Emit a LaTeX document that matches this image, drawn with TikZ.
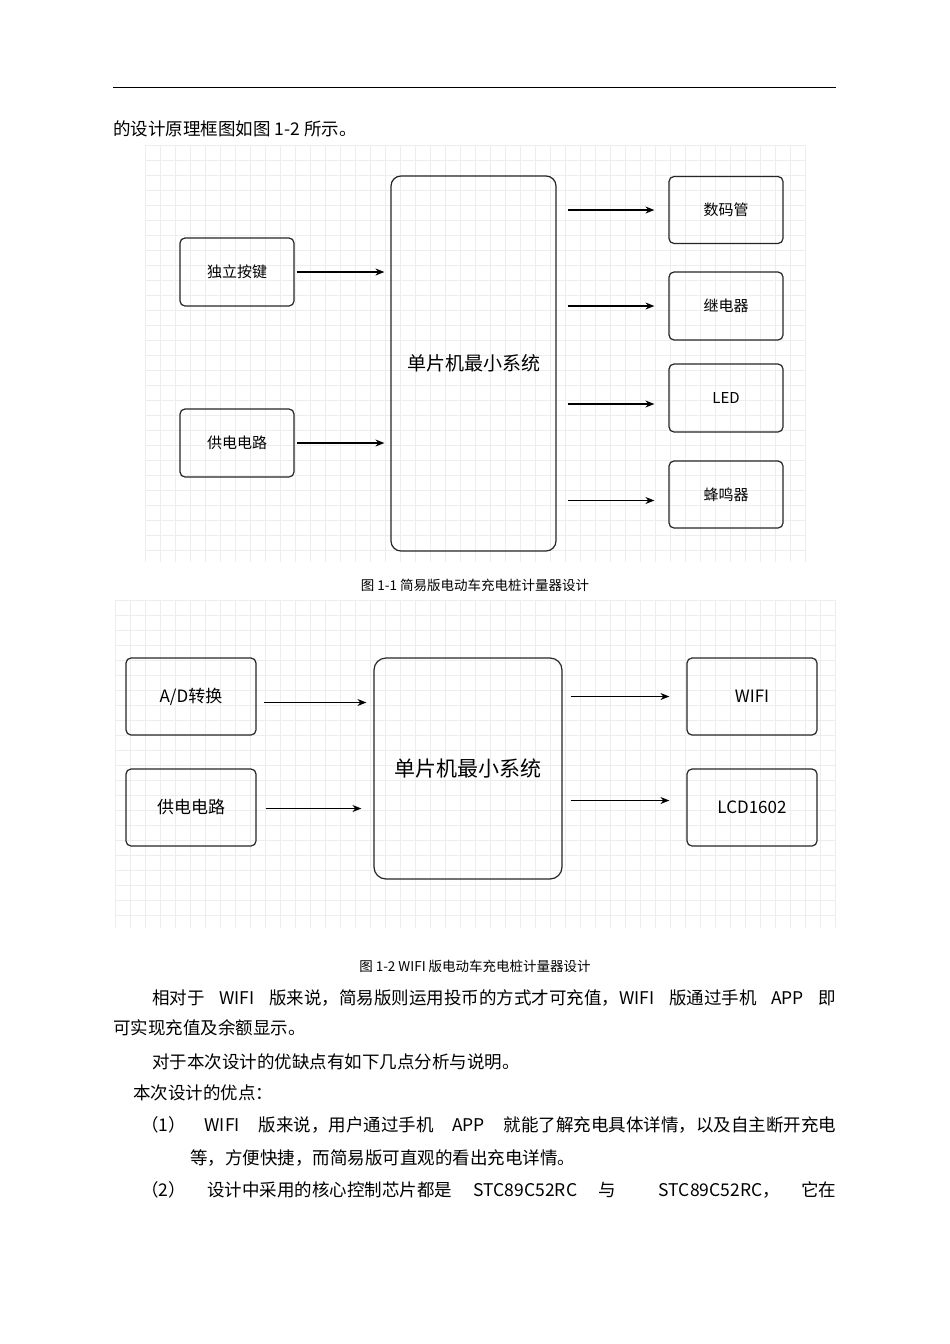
\documentclass[tikz,border=0pt]{standalone}
\usepackage{fontspec}
\setmainfont{Noto Sans CJK SC}
\usetikzlibrary{arrows.meta}
\XeTeXlinebreaklocale "zh"
\XeTeXlinebreakskip=0pt plus 2pt
\begin{document}
\begin{tikzpicture}[x=1pt,y=-1pt,
  box/.style={draw=black!85,line width=1.2pt,rounded corners=5pt,align=center},
  arr/.style={-{Stealth[length=9pt,width=7pt]},line width=1.2pt},
  lbl/.style={font=\fontsize{15}{17}\selectfont},
  txt/.style={anchor=west,font=\fontsize{17.5}{20}\selectfont,inner sep=0pt},
  figcap/.style={font=\fontsize{13.5}{15}\selectfont,inner sep=0pt}]
\useasboundingbox[fill=white] (0,0) rectangle (950,1344);
\draw[line width=1pt] (113,87) -- (836,87);
\node[txt] (t0) at (113,129) {的设计原理框图如图 1-2 所示。};
% grids
\foreach \x in {145,160,...,805} \draw[black!7] (\x,145) -- (\x,562);
\foreach \y in {145,160,...,560} \draw[black!7] (145,\y) -- (806,\y);
\foreach \x in {115,130,...,835} \draw[black!7] (\x,600) -- (\x,928);
\foreach \y in {600,615,...,925} \draw[black!7] (115,\y) -- (836,\y);
% diagram 1
\node[box,lbl,minimum width=114,minimum height=68] (k) at (237,272) {独立按键};
\node[box,lbl,minimum width=114,minimum height=68] (p) at (237,443) {供电电路};
\node[box,font=\fontsize{19}{21}\selectfont,minimum width=165,minimum height=375,rounded corners=10pt] (m) at (473.5,363.5) {单片机最小系统};
\node[box,lbl,minimum width=114,minimum height=67] (s) at (726,210) {数码管};
\node[box,lbl,minimum width=114,minimum height=68] (r) at (726,306) {继电器};
\node[box,lbl,minimum width=114,minimum height=68] (l) at (726,398) {LED};
\node[box,lbl,minimum width=114,minimum height=67] (b) at (726,494.5) {蜂鸣器};
\draw[arr] (k.east)++(2,0) coordinate (k1) -- ([xshift=-6]m.west|-k1);
\draw[arr] (p.east)++(2,0) coordinate (p1) -- ([xshift=-6]m.west|-p1);
\draw[arr] ([xshift=11]m.east|-s) -- ([xshift=-14]s.west);
\draw[arr] ([xshift=11]m.east|-r) -- ([xshift=-14]r.west);
\draw[arr] ([xshift=11,yshift=-6]m.east|-l) -- ([xshift=-14,yshift=-6]l.west);
\draw[arr] ([xshift=11,yshift=-6]m.east|-b) -- ([xshift=-14,yshift=-6]b.west);
\node[figcap] (c1) at (475,585) {图 1-1 简易版电动车充电桩计量器设计};
% diagram 2
\node[box,font=\fontsize{17}{19}\selectfont,minimum width=130,minimum height=77] (a2) at (191,696.5) {A/D转换};
\node[box,font=\fontsize{17}{19}\selectfont,minimum width=130,minimum height=77] (p2) at (191,807.5) {供电电路};
\node[box,font=\fontsize{21}{23}\selectfont,minimum width=188,minimum height=221,rounded corners=12pt] (m2) at (468,768.5) {单片机最小系统};
\node[box,font=\fontsize{17}{19}\selectfont,minimum width=130,minimum height=77] (w2) at (752,696.5) {WIFI};
\node[box,font=\fontsize{17}{19}\selectfont,minimum width=130,minimum height=77] (d2) at (752,807.5) {LCD1602};
\draw[arr] ([xshift=7,yshift=-6]a2.east) -- ([xshift=-7,yshift=-6]m2.west|-a2);
\draw[arr] ([xshift=9,yshift=-1]p2.east) -- ([xshift=-12,yshift=-1]m2.west|-p2);
\draw[arr] ([xshift=8]m2.east|-w2) -- ([xshift=-17]w2.west);
\draw[arr] ([xshift=8,yshift=7]m2.east|-d2) -- ([xshift=-17,yshift=7]d2.west);
\node[figcap] (c2) at (475,966) {图 1-2 WIFI 版电动车充电桩计量器设计};
% text
\node[txt] (t1) at (152,998) {\makebox[684pt][s]{相对于 WIFI 版来说，简易版则运用投币的方式才可充值，WIFI 版通过手机 APP 即}};
\node[txt] (t2) at (113,1028) {可实现充值及余额显示。};
\node[txt] (t3) at (152,1062) {对于本次设计的优缺点有如下几点分析与说明。};
\node[txt] (t4) at (133,1093) {本次设计的优点：};
\node[txt] (t5) at (141,1125) {\makebox[695pt][s]{（1） WIFI 版来说，用户通过手机 APP 就能了解充电具体详情，以及自主断开充电}};
\node[txt] (t6) at (190,1158) {等，方便快捷，而简易版可直观的看出充电详情。};
\node[txt] (t7) at (141,1190) {\makebox[695pt][s]{（2） 设计中采用的核心控制芯片都是 STC89C52RC 与 \ STC89C52RC， 它在}};
\end{tikzpicture}
\end{document}
